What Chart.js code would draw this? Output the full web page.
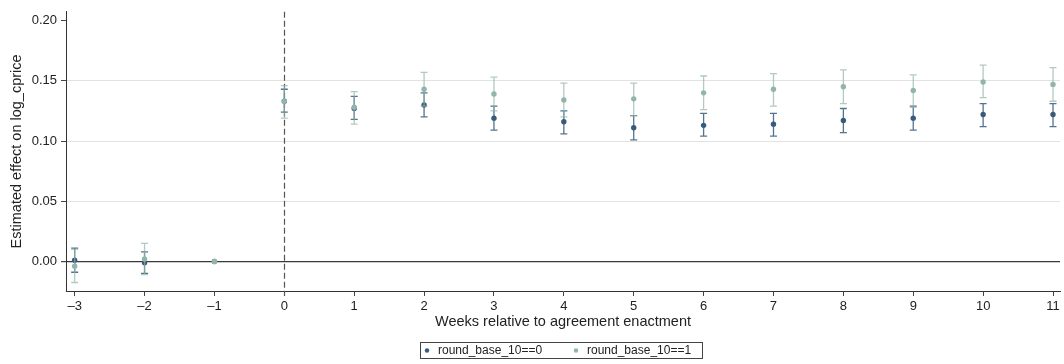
<!DOCTYPE html>
<html>
<head>
<meta charset="utf-8">
<script src="https://cdn.jsdelivr.net/npm/chart.js@4/dist/chart.umd.min.js"></script>
<style>
    body { margin: 0; background: #fff; }
    #wrap { width: 1064px; height: 364px; position: relative; }
</style>
</head>
<body>
<div id="wrap"><canvas id="eventStudy"></canvas></div>
<script>
// event-study coefficients by week, two groups
const weeks = [-3, -2, -1, 0, 1, 2, 3, 4, 5, 6, 7, 8, 9, 10, 11];

const coefBase0 = [0.001, -0.001, 0, 0.133, 0.127, 0.130, 0.119, 0.116, 0.111, 0.113, 0.114, 0.117, 0.119, 0.122, 0.122];
const loBase0   = [-0.009, -0.010, null, 0.124, 0.118, 0.120, 0.109, 0.106, 0.101, 0.104, 0.104, 0.107, 0.109, 0.112, 0.112];
const hiBase0   = [0.011, 0.008, null, 0.143, 0.137, 0.140, 0.129, 0.125, 0.121, 0.123, 0.123, 0.127, 0.129, 0.131, 0.131];

const coefBase1 = [-0.004, 0.002, 0, 0.133, 0.128, 0.143, 0.139, 0.134, 0.135, 0.140, 0.143, 0.145, 0.142, 0.149, 0.147];
const loBase1   = [-0.0175, -0.011, null, 0.119, 0.114, 0.129, 0.125, 0.120, 0.121, 0.126, 0.129, 0.131, 0.128, 0.136, 0.133];
const hiBase1   = [0.010, 0.015, null, 0.146, 0.141, 0.157, 0.153, 0.148, 0.148, 0.154, 0.156, 0.159, 0.155, 0.163, 0.161];

const yTicks = [0, 0.05, 0.10, 0.15, 0.20];
const seriesLabels = ['round_base_10==0', 'round_base_10==1'];

const darkBlue = '#375b7b';
const sage = '#93b4aa';

const toPoints = (ys) => weeks.map((w, i) => ({x: w, y: ys[i]}));

// confidence intervals, drawn right before each dataset's markers
const errorBars = {
    id: 'errorBars',
    beforeDatasetDraw(chart, args) {
        const ds = chart.data.datasets[args.index];
        const xs = chart.scales.x, ys = chart.scales.y;
        const ctx = chart.ctx;
        ctx.save();
        ctx.strokeStyle = ds.ciColor;
        ctx.lineWidth = 1.3;
        weeks.forEach((w, i) => {
            if (ds.lo[i] == null) return;
            const px = xs.getPixelForValue(w);
            const top = ys.getPixelForValue(ds.hi[i]);
            const bot = ys.getPixelForValue(ds.lo[i]);
            ctx.beginPath();
            ctx.moveTo(px, top); ctx.lineTo(px, bot);
            ctx.moveTo(px - 3.5, top); ctx.lineTo(px + 3.5, top);
            ctx.moveTo(px - 3.5, bot); ctx.lineTo(px + 3.5, bot);
            ctx.stroke();
        });
        ctx.restore();
    }
};

// dashed line at enactment week
const enactLine = {
    id: 'enactLine',
    beforeDatasetsDraw(chart) {
        const {ctx, chartArea} = chart;
        const px = Math.round(chart.scales.x.getPixelForValue(0)) + 0.5;
        ctx.save();
        ctx.strokeStyle = '#555';
        ctx.lineWidth = 1.2;
        ctx.setLineDash([6, 3]);
        ctx.beginPath();
        ctx.moveTo(px, chartArea.top);
        ctx.lineTo(px, chartArea.bottom + 5);
        ctx.stroke();
        ctx.restore();
    }
};

// boxed legend under the x title
const boxLegend = {
    id: 'boxLegend',
    afterDraw(chart) {
        const ctx = chart.ctx;
        const boxX = 420.5, boxY = 342.5, boxW = 282, boxH = 16;
        ctx.save();
        ctx.strokeStyle = '#444';
        ctx.lineWidth = 1;
        ctx.strokeRect(boxX, boxY, boxW, boxH);
        ctx.font = '12px "Liberation Sans", Arial, sans-serif';
        ctx.textBaseline = 'middle';
        const items = [
            {x: 427, color: darkBlue, label: seriesLabels[0]},
            {x: 576, color: sage, label: seriesLabels[1]}
        ];
        items.forEach(it => {
            ctx.fillStyle = it.color;
            ctx.beginPath();
            ctx.arc(it.x, boxY + boxH / 2, 2.2, 0, Math.PI * 2);
            ctx.fill();
            ctx.fillStyle = '#222';
            ctx.fillText(it.label, it.x + 11, boxY + boxH / 2 + 0.5);
        });
        ctx.restore();
    }
};

const config = {
    type: 'scatter',
    data: {
        datasets: [
            {
                label: seriesLabels[0],
                data: toPoints(coefBase0),
                lo: loBase0, hi: hiBase0,
                ciColor: 'rgba(55,91,123,0.85)',
                backgroundColor: darkBlue,
                borderColor: darkBlue,
                pointRadius: 2.7,
                pointBorderWidth: 0,
                order: 2  // drawn first, under the second group
            },
            {
                label: seriesLabels[1],
                data: toPoints(coefBase1),
                lo: loBase1, hi: hiBase1,
                ciColor: 'rgba(147,180,170,0.7)',
                backgroundColor: sage,
                borderColor: sage,
                pointRadius: 2.7,
                pointBorderWidth: 0,
                order: 1
            }
        ]
    },
    options: {
        responsive: true,
        maintainAspectRatio: false,
        animation: false,
        layout: {
            padding: {top: 5, right: 0, bottom: 33, left: 0}
        },
        font: {family: '"Liberation Sans", Arial, sans-serif'},
        scales: {
            x: {
                type: 'linear',
                min: -3.124,
                max: 11.1,
                afterBuildTicks: (scale) => { scale.ticks = weeks.map(v => ({value: v})); },
                afterFit: (scale) => { scale.height = 40; },
                border: {color: '#333', width: 1},
                grid: {drawOnChartArea: false, tickLength: 5, tickColor: '#444'},
                ticks: {
                    color: '#222',
                    padding: 3,
                    font: {size: 13},
                    callback: (v) => v < 0 ? '\u2013' + Math.abs(v) : String(v)
                },
                title: {
                    display: true,
                    text: 'Weeks relative to agreement enactment',
                    color: '#222',
                    font: {size: 14.5},
                    padding: {top: 0, bottom: 0}
                }
            },
            y: {
                min: -0.02456,
                max: 0.2073,
                afterBuildTicks: (scale) => { scale.ticks = yTicks.map(v => ({value: v})); },
                afterFit: (scale) => { scale.width = 66; },
                border: {color: '#333', width: 1},
                grid: {
                    tickLength: 5,
                    tickColor: '#444',
                    color: (c) => {
                        if (!c.tick) return 'rgba(0,0,0,0)';
                        if (c.tick.value === 0) return '#3a3a3a';
                        if (c.tick.value === 0.20) return 'rgba(0,0,0,0)';
                        return '#e2e2e2';
                    },
                    lineWidth: (c) => (c.tick && c.tick.value === 0) ? 1.2 : 1
                },
                ticks: {
                    color: '#222',
                    padding: 4,
                    font: {size: 13},
                    callback: (v) => v.toFixed(2)
                },
                title: {
                    display: true,
                    text: 'Estimated effect on log_cprice',
                    color: '#222',
                    font: {size: 14.5},
                    padding: {top: 8, bottom: 0}
                }
            }
        },
        plugins: {
            legend: {display: false},
            tooltip: {enabled: false}
        }
    },
    plugins: [errorBars, enactLine, boxLegend]
};

const eventChart = new Chart(document.getElementById('eventStudy'), config);
</script>
</body>
</html>
